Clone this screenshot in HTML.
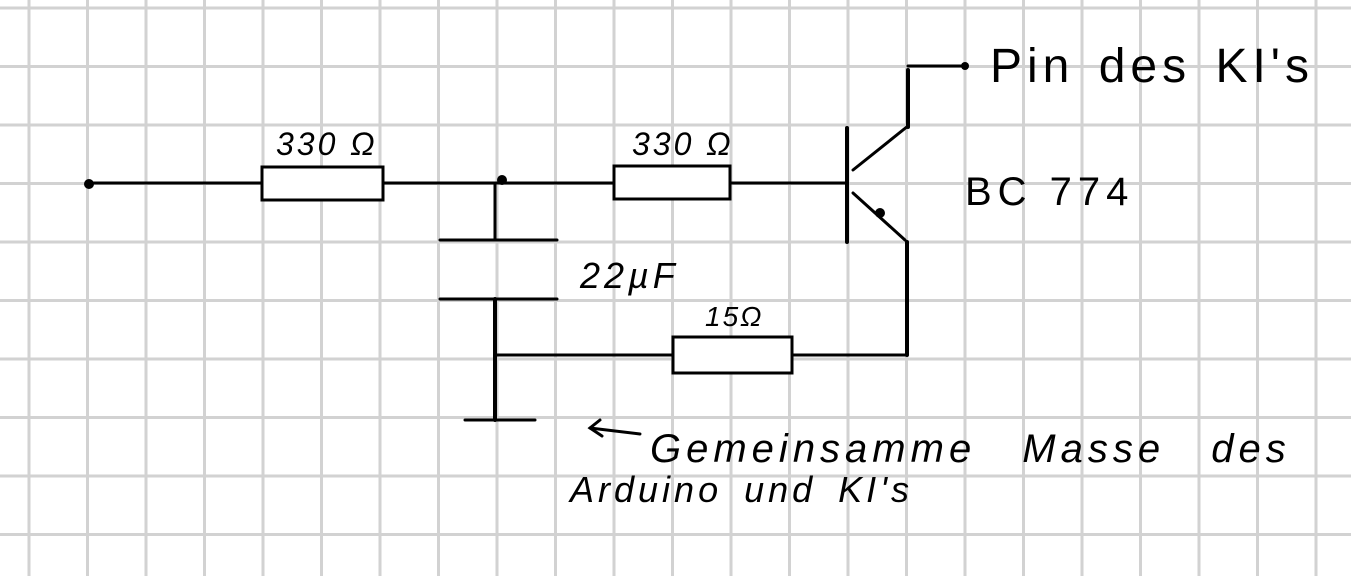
<!DOCTYPE html>
<html><head><meta charset="utf-8"><style>
html,body{margin:0;padding:0;background:#fff;}
svg{display:block;}
text{font-family:"Liberation Sans",sans-serif;font-style:italic;fill:#000;}
</style></head><body>
<svg width="1351" height="576" viewBox="0 0 1351 576" xmlns="http://www.w3.org/2000/svg">
<defs>
<pattern id="g" x="0" y="0" width="58.5" height="58.5" patternUnits="userSpaceOnUse" patternTransform="translate(29,8)">
<rect x="-1.5" y="0" width="3" height="58.5" fill="#d2d2d2"/>
<rect x="0" y="-1.5" width="58.5" height="3" fill="#d2d2d2"/>
<rect x="57" y="0" width="3" height="58.5" fill="#d2d2d2"/>
<rect x="0" y="57" width="58.5" height="3" fill="#d2d2d2"/>
</pattern>
</defs>
<rect width="1351" height="576" fill="#fff"/>
<rect width="1351" height="576" fill="url(#g)"/>
<g stroke="#000" stroke-width="3" fill="none" stroke-linecap="round">
<line x1="89" y1="183" x2="262" y2="183"/>
<rect x="262" y="167" width="121" height="33" fill="#fff"/>
<line x1="383" y1="183" x2="614" y2="183"/>
<rect x="614" y="166" width="116" height="33" fill="#fff"/>
<line x1="730" y1="183" x2="847" y2="183"/>
<line x1="847" y1="128" x2="847" y2="242" stroke-width="4"/>
<line x1="853" y1="170" x2="908" y2="126"/>
<line x1="908" y1="70" x2="908" y2="127" stroke-width="4"/>
<line x1="908" y1="66" x2="965" y2="66"/>
<line x1="853" y1="193" x2="905" y2="240"/>
<line x1="907" y1="242" x2="907" y2="355" stroke-width="4"/>
<line x1="495" y1="183" x2="495" y2="240"/>
<line x1="440" y1="240" x2="557" y2="240"/>
<line x1="440" y1="299" x2="557" y2="299"/>
<line x1="495" y1="299" x2="495" y2="420" stroke-width="4"/>
<line x1="465" y1="420" x2="535" y2="420"/>
<line x1="495" y1="355" x2="673" y2="355"/>
<rect x="673" y="337" width="119" height="36" fill="#fff"/>
<line x1="792" y1="355" x2="907" y2="355"/>
<line x1="590" y1="428" x2="640" y2="434"/>
<polyline points="600,420 590,428 602,436"/>
</g>
<circle cx="89" cy="184" r="5" fill="#000"/>
<circle cx="502" cy="180" r="5" fill="#000"/>
<circle cx="965" cy="66" r="4" fill="#000"/>
<circle cx="880" cy="213" r="5" fill="#000"/>
<text x="276" y="155" font-size="32" letter-spacing="3">330 Ω</text>
<text x="632" y="155" font-size="32" letter-spacing="3">330 Ω</text>
<text x="580" y="288" font-size="36" letter-spacing="4">22µF</text>
<text x="705" y="326" font-size="28" letter-spacing="2">15Ω</text>
<text x="965" y="205" font-size="40" style="font-style:normal" letter-spacing="6">BC 774</text>
<text x="990" y="82" font-size="48" style="font-style:normal" letter-spacing="5" word-spacing="6">Pin des KI's</text>
<text x="650" y="462" font-size="40" letter-spacing="5" word-spacing="30">Gemeinsamme Masse des</text>
<text x="570" y="502" font-size="36" letter-spacing="4" word-spacing="8">Arduino und KI's</text>
</svg>
</body></html>
